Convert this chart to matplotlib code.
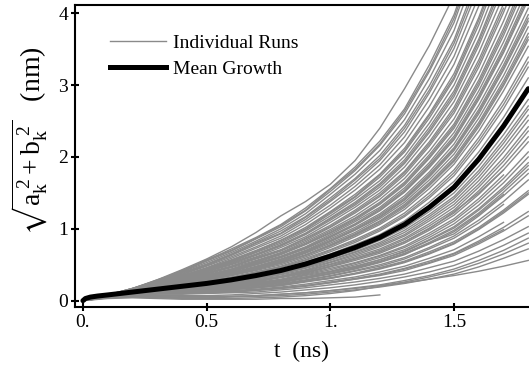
import matplotlib
matplotlib.use('Agg')
import matplotlib.pyplot as plt
from matplotlib.lines import Line2D

# ---------------- data ----------------
t_grid = [0.0, 0.1, 0.2, 0.3, 0.4, 0.5, 0.6, 0.7, 0.8, 0.9,
          1.0, 1.1, 1.2, 1.3, 1.4, 1.5, 1.6, 1.7, 1.8]

r01 = [0, .08, .17, .29, .43, .58, .75, .95, 1.18, 1.38, 1.62, 1.95, 2.40, 2.95, 3.55, 4.25]
r02 = [0, .08, .17, .28, .42, .56, .72, .88, 1.06, 1.29, 1.56, 1.86, 2.22, 2.67, 3.28, 3.98, 4.96]
r03 = [0, .08, .17, .28, .41, .55, .69, .86, 1.03, 1.25, 1.52, 1.81, 2.16, 2.60, 3.19, 3.87, 4.83]
r04 = [0, .08, .16, .27, .40, .53, .67, .83, 1.00, 1.21, 1.48, 1.76, 2.09, 2.52, 3.09, 3.76, 4.69]
r05 = [0, .08, .16, .26, .39, .51, .65, .81, .97, 1.17, 1.43, 1.70, 2.02, 2.44, 2.99, 3.63, 4.53]
r06 = [0, .07, .16, .25, .37, .49, .63, .78, .93, 1.13, 1.38, 1.64, 1.95, 2.35, 2.89, 3.51, 4.37]
r07 = [0, .07, .15, .25, .36, .48, .61, .75, .90, 1.10, 1.33, 1.59, 1.89, 2.28, 2.80, 3.40, 4.24]
r08 = [0, .07, .15, .24, .35, .46, .59, .73, .87, 1.06, 1.29, 1.54, 1.83, 2.20, 2.70, 3.29, 4.10, 5.05]
r09 = [0, .07, .15, .24, .34, .45, .57, .70, .84, 1.02, 1.24, 1.48, 1.76, 2.12, 2.60, 3.16, 3.94, 4.86]
r10 = [0, .07, .14, .23, .33, .44, .55, .68, .82, .99, 1.21, 1.44, 1.72, 2.07, 2.54, 3.08, 3.84, 4.74]
r11 = [0, .07, .14, .23, .33, .43, .54, .67, .80, .97, 1.18, 1.41, 1.67, 2.01, 2.47, 3.00, 3.74, 4.62]
r12 = [0, .07, .14, .22, .32, .42, .53, .65, .78, .94, 1.15, 1.37, 1.63, 1.96, 2.41, 2.92, 3.64, 4.50]
r13 = [0, .07, .14, .22, .31, .41, .51, .63, .76, .92, 1.12, 1.33, 1.58, 1.91, 2.34, 2.84, 3.55, 4.37]
r14 = [0, .07, .14, .22, .30, .40, .50, .61, .74, .89, 1.09, 1.30, 1.54, 1.86, 2.28, 2.77, 3.45, 4.25]
r15 = [0, .07, .14, .21, .30, .39, .48, .60, .71, .87, 1.05, 1.26, 1.50, 1.80, 2.21, 2.69, 3.35, 4.13]
r16 = [0, .07, .13, .21, .29, .38, .47, .58, .69, .84, 1.02, 1.22, 1.45, 1.75, 2.15, 2.61, 3.25, 4.01, 4.87]
r17 = [0, .07, .13, .20, .28, .37, .46, .56, .67, .82, .99, 1.18, 1.41, 1.70, 2.08, 2.53, 3.15, 3.89, 4.72]
r18 = [0, .07, .13, .20, .27, .36, .44, .55, .66, .80, .97, 1.15, 1.37, 1.65, 2.03, 2.46, 3.07, 3.79, 4.60]
r19 = [0, .07, .13, .20, .27, .35, .43, .53, .64, .78, .94, 1.12, 1.34, 1.61, 1.98, 2.40, 2.99, 3.69, 4.48]
r20 = [0, .07, .13, .19, .26, .34, .42, .52, .62, .75, .92, 1.10, 1.30, 1.57, 1.92, 2.34, 2.92, 3.60, 4.37]
r21 = [0, .07, .13, .19, .26, .34, .41, .51, .61, .74, .90, 1.07, 1.28, 1.54, 1.89, 2.29, 2.86, 3.52, 4.28]
r22 = [0, .06, .12, .19, .25, .33, .40, .50, .60, .72, .88, 1.05, 1.25, 1.51, 1.85, 2.24, 2.80, 3.45, 4.19]
r23 = [0, .06, .12, .18, .25, .32, .39, .48, .58, .70, .86, 1.02, 1.21, 1.46, 1.79, 2.18, 2.72, 3.35, 4.07]
r24 = [0, .06, .12, .18, .24, .32, .38, .47, .57, .69, .84, 1.00, 1.19, 1.43, 1.76, 2.13, 2.66, 3.28, 3.98]
r25 = [0, .06, .12, .18, .24, .31, .38, .46, .55, .67, .82, .98, 1.16, 1.40, 1.72, 2.09, 2.60, 3.21, 3.89]
r26 = [0, .06, .12, .17, .24, .30, .37, .45, .54, .66, .80, .95, 1.14, 1.37, 1.68, 2.04, 2.54, 3.13, 3.81]
r27 = [0, .06, .12, .17, .23, .30, .36, .44, .53, .64, .78, .93, 1.11, 1.34, 1.64, 1.99, 2.48, 3.06, 3.72]
r28 = [0, .06, .12, .17, .23, .29, .35, .43, .52, .63, .76, .91, 1.08, 1.30, 1.60, 1.94, 2.42, 2.99, 3.63]
r29 = [0, .06, .12, .17, .22, .28, .35, .42, .50, .61, .74, .89, 1.06, 1.27, 1.56, 1.90, 2.36, 2.92, 3.54]
r30 = [0, .06, .12, .16, .21, .27, .33, .40, .48, .59, .71, .85, 1.01, 1.22, 1.50, 1.82, 2.27, 2.79, 3.39]
r31 = [0, .06, .11, .16, .21, .26, .32, .39, .46, .56, .68, .81, .97, 1.17, 1.43, 1.74, 2.17, 2.67, 3.25]
r32 = [0, .06, .11, .15, .20, .25, .30, .37, .44, .54, .65, .78, .92, 1.11, 1.37, 1.66, 2.07, 2.55, 3.10]
r33 = [0, .05, .10, .15, .20, .23, .30, .36, .41, .52, .61, .75, .87, 1.07, 1.28, 1.60, 1.95, 2.45, 2.92]
r34 = [0, .06, .11, .15, .18, .23, .28, .33, .40, .48, .59, .70, .84, 1.01, 1.24, 1.50, 1.87, 2.31, 2.80]
r35 = [0, .06, .11, .14, .18, .22, .27, .32, .39, .47, .57, .68, .81, .98, 1.20, 1.45, 1.81, 2.24, 2.71]
r36 = [0, .06, .11, .14, .17, .22, .26, .32, .38, .46, .56, .67, .79, .95, 1.17, 1.42, 1.77, 2.19, 2.66]
r37 = [0, .06, .10, .14, .16, .21, .25, .30, .36, .43, .53, .63, .75, .90, 1.11, 1.34, 1.67, 2.07, 2.51]
r38 = [0, .06, .10, .13, .16, .20, .24, .29, .34, .42, .51, .61, .72, .87, 1.07, 1.30, 1.62, 1.99, 2.42]
r39 = [0, .06, .10, .13, .16, .20, .23, .28, .34, .41, .50, .59, .70, .85, 1.04, 1.26, 1.58, 1.94, 2.36]
r40 = [0, .06, .10, .13, .15, .19, .22, .26, .32, .38, .47, .56, .66, .80, .98, 1.19, 1.48, 1.82, 2.21]
r41 = [0, .06, .10, .12, .15, .18, .21, .25, .30, .37, .45, .53, .63, .76, .94, 1.14, 1.42, 1.75]
r42 = [0, .06, .10, .12, .14, .18, .21, .25, .29, .36, .43, .52, .62, .74, .91, 1.11, 1.38, 1.70, 2.07]
r43 = [0, .06, .10, .12, .14, .17, .20, .23, .27, .33, .40, .48, .57, .69, .85, 1.03, 1.28, 1.58, 1.92]
r44 = [0, .06, .10, .12, .14, .16, .19, .22, .26, .32, .38, .46, .55, .66, .81, .98, 1.22, 1.51, 1.83]
r45 = [0, .06, .09, .12, .13, .16, .18, .21, .25, .31, .37, .44, .53, .64, .80, .93, 1.18, 1.46, 1.77]
r46 = [0, .05, .09, .11, .12, .15, .17, .19, .23, .28, .34, .41, .48, .58, .72, .87, 1.08, 1.34]
r47 = [0, .05, .09, .11, .12, .14, .16, .18, .22, .27, .32, .38, .46, .55, .68, .82, 1.02, 1.26, 1.53]
r48 = [0, .05, .09, .11, .11, .13, .15, .18, .21, .26, .31, .37, .44, .53, .65, .79, .99, 1.22, 1.48]
r49 = [0, .05, .09, .10, .10, .12, .14, .16, .19, .23, .28, .33, .40, .48, .59, .71, .89, 1.09]
r50 = [0, .05, .09, .10, .10, .11, .13, .15, .18, .21, .26, .31, .37, .45, .55, .66, .83, 1.02, 1.24]
r51 = [0, .05, .09, .10, .10, .11, .12, .14, .17, .20, .25, .30, .35, .42, .52, .63, .79, .97, 1.18]
r52 = [0, .05, .08, .09, .09, .10, .11, .12, .15, .18, .22, .26, .31, .37, .46, .55, .69, .85, 1.03]
r53 = [0, .05, .07, .07, .06, .06, .06, .07, .09, .11, .14, .18, .22, .28, .35, .44, .56, .70, .87]
r54 = [0, .04, .06, .05, .04, .04, .05, .06, .07, .09, .12, .15, .19, .24, .30, .37, .47, .59, .72]
r55 = [0, .04, .05, .04, .03, .03, .03, .04, .05, .07, .10, .14, .20, .25, .30, .35, .41, .48, .56]
r56 = [0, .03, .04, .03, .02, .02, .02, .02, .03, .03, .04, .05, .08]
r57 = [0, .08, .16, .29, .40, .57, .70, .87, 1.05, 1.26, 1.55, 1.83, 2.18, 2.64, 3.22, 3.93, 4.90]
r58 = [0, .07, .17, .25, .38, .50, .64, .80, .94, 1.16, 1.40, 1.68, 1.98, 2.40, 2.93, 3.58, 4.45]
r59 = [0, .07, .14, .24, .33, .45, .56, .69, .84, 1.00, 1.23, 1.45, 1.75, 2.09, 2.58, 3.11, 3.90, 4.80]
r60 = [0, .07, .14, .22, .31, .42, .52, .64, .77, .93, 1.14, 1.35, 1.61, 1.93, 2.37, 2.88, 3.60, 4.44]
r61 = [0, .07, .13, .21, .30, .38, .48, .59, .70, .86, 1.03, 1.24, 1.47, 1.78, 2.18, 2.65, 3.30, 4.07]
r62 = [0, .07, .13, .20, .27, .35, .44, .54, .65, .79, .95, 1.14, 1.35, 1.63, 2.00, 2.43, 3.03, 3.74, 4.54]
r63 = [0, .06, .12, .19, .26, .33, .41, .50, .60, .73, .89, 1.06, 1.26, 1.52, 1.87, 2.26, 2.83, 3.48, 4.23]
r64 = [0, .06, .12, .18, .24, .31, .38, .46, .56, .68, .83, .99, 1.17, 1.41, 1.74, 2.11, 2.63, 3.24, 3.93]
r65 = [0, .06, .12, .17, .23, .29, .36, .44, .52, .63, .77, .92, 1.10, 1.32, 1.62, 1.96, 2.45, 3.02, 3.67]
r66 = [0, .06, .11, .16, .21, .27, .32, .40, .47, .57, .70, .83, .99, 1.19, 1.46, 1.78, 2.22, 2.73, 3.32]
r67 = [0, .06, .11, .15, .19, .24, .29, .35, .43, .50, .62, .73, .88, 1.05, 1.30, 1.58, 1.96, 2.42, 2.95]
r68 = [0, .06, .10, .14, .17, .21, .25, .31, .37, .45, .54, .65, .77, .92, 1.14, 1.38, 1.72, 2.13, 2.58]
r69 = [0, .06, .10, .13, .15, .19, .23, .27, .33, .39, .48, .58, .68, .82, 1.01, 1.22, 1.53, 1.88, 2.28]
r70 = [0, .06, .10, .12, .14, .17, .20, .24, .28, .35, .41, .50, .60, .71, .88, 1.07, 1.33, 1.64, 2.00]
r71 = [0, .06, .10, .12, .13, .16, .18, .22, .26, .31, .38, .45, .54, .65, .79, .96, 1.20, 1.48]
r72 = [0, .05, .09, .11, .12, .13, .16, .18, .21, .27, .31, .38, .45, .54, .66, .80, 1.00, 1.24, 1.50]
r73 = [0, .05, .09, .10, .10, .11, .12, .15, .17, .21, .25, .30, .36, .44, .53, .65, .81, .99]
r74 = [0, .05, .07, .07, .07, .07, .08, .10, .12, .15, .18, .22, .27, .33, .40, .49, .62, .77, .94]
r75 = [0, .05, .07, .06, .05, .05, .06, .07, .09, .11, .14, .17, .21, .26, .33, .41, .52, .65, .80]
r76 = [0, .06, .10, .13, .15, .19, .22, .27, .33, .40, .48, .58, .68, .82, 1.00, 1.24, 1.50, 1.82]
r77 = [0, .05, .09, .11, .13, .15, .17, .20, .24, .29, .35, .42, .50, .60, .74, .90, 1.12, 1.38, 1.68]
r78 = [0, .06, .10, .12, .14, .17, .19, .23, .27, .33, .40, .47, .57, .68, .84, 1.01, 1.26, 1.55, 1.88]

runs = [r01, r02, r03, r04, r05, r06, r07, r08, r09, r10, r11, r12, r13, r14,
        r15, r16, r17, r18, r19, r20, r21, r22, r23, r24, r25, r26, r27, r28,
        r29, r30, r31, r32, r33, r34, r35, r36, r37, r38, r39, r40, r41, r42,
        r43, r44, r45, r46, r47, r48, r49, r50, r51, r52, r53, r54, r55, r56,
        r57, r58, r59, r60, r61, r62, r63, r64, r65, r66, r67, r68, r69, r70,
        r71, r72, r73, r74, r75, r76, r77, r78]

t_mean = [0.0, 0.01, 0.03, 0.06, 0.1, 0.2, 0.3, 0.4, 0.5, 0.6, 0.7, 0.8, 0.9,
          1.0, 1.1, 1.2, 1.3, 1.4, 1.5, 1.6, 1.7, 1.8]
mean_growth = [0.0, 0.03, 0.05, 0.065, 0.08, 0.12, 0.16, 0.20, 0.24, 0.29, 0.35,
               0.42, 0.51, 0.62, 0.74, 0.88, 1.06, 1.30, 1.58, 1.97, 2.43, 2.95]

x_ticks = [0.0, 0.5, 1.0, 1.5]
x_tick_labels = ['0.', '0.5', '1.', '1.5']
y_ticks = [0, 1, 2, 3, 4]
y_tick_labels = ['0', '1', '2', '3', '4']
legend_labels = ['Individual Runs', 'Mean Growth']

# ---------------- drawing ----------------
plt.rcParams['font.family'] = ['Liberation Serif', 'DejaVu Serif']
plt.rcParams['mathtext.fontset'] = 'stix'

W, H = 529, 371
fig = plt.figure(figsize=(W / 100, H / 100), dpi=100)
ax = fig.add_axes([75 / W, 1 - 307 / H, (W - 75) / W, (307 - 5) / H])

gray = '#8a8a8a'
for r in runs:
    ax.plot(t_grid[:len(r)], r, color=gray, lw=1.0, zorder=2)
ax.plot(t_mean, mean_growth, color='black', lw=3.6, solid_capstyle='round', zorder=3)

ax.set_xlim(-0.032, 1.803)
ax.set_ylim(-0.088, 4.115)
ax.spines['right'].set_visible(False)
for s in ['left', 'bottom', 'top']:
    ax.spines[s].set_linewidth(1.5)

ax.set_xticks(x_ticks)
ax.set_xticklabels(x_tick_labels)
ax.set_yticks(y_ticks)
ax.set_yticklabels(y_tick_labels)
ax.tick_params(direction='inout', length=6, width=1.5, labelsize=14, pad=2)

ax.set_xlabel('t  (ns)', fontsize=17, labelpad=7)
ax.set_ylabel(r'$\sqrt{\mathregular{a_k^{\ 2} + b_k^{\ 2}}}$   (nm)', fontsize=20)
ax.yaxis.set_label_coords(-0.055, 0.55)

handles = [Line2D([], [], color=gray, lw=1.0),
           Line2D([], [], color='black', lw=3.6)]
ax.legend(handles, legend_labels, loc='upper left', bbox_to_anchor=(0.06, 0.93),
          frameon=False, fontsize=14, handlelength=2.9, handletextpad=0.35,
          labelspacing=0.45, borderaxespad=0)

fig.savefig('out.png', dpi=100)
